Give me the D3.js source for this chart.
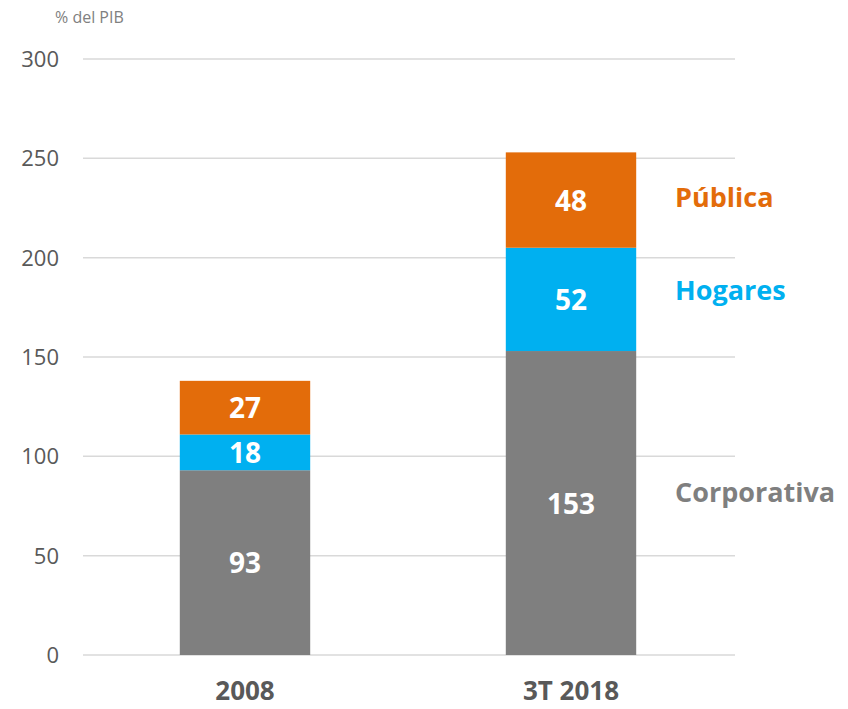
<!DOCTYPE html>
<html><head><meta charset="utf-8">
<script src="https://cdn.jsdelivr.net/npm/d3@7"></script>
<style>body{margin:0;background:#fff}svg{display:block}text{font-family:"Open Sans","Noto Sans",sans-serif}</style>
</head><body><div id="chart"></div>
<script>
const categories = ["2008", "3T 2018"];
const seriesNames = ["Corporativa", "Hogares", "Pública"];
const corporativa = [93, 153];
const hogares = [18, 52];
const publica = [27, 48];
const yTicks = [0, 50, 100, 150, 200, 250, 300];
const colors = ["#7f7f7f", "#00b0f0", "#e36c0a"];

const W = 848, H = 709;
const svg = d3.select("#chart").append("svg").attr("width", W).attr("height", H);
const y = d3.scaleLinear().domain([0, 300]).range([655, 59]);
const x = d3.scaleBand().domain(categories).range([82, 734]).paddingInner(0.6).paddingOuter(0.3);

const rows = categories.map((c, i) => ({cat: c, Corporativa: corporativa[i], Hogares: hogares[i], "Pública": publica[i]}));
const stacked = d3.stack().keys(seriesNames)(rows);

// gridlines
svg.append("g").selectAll("line").data(yTicks).join("line")
  .attr("x1", 83).attr("x2", 735).attr("y1", d => y(d)).attr("y2", d => y(d))
  .attr("stroke", "#d9d9d9").attr("stroke-width", 1.5);

// y tick labels
svg.append("g").selectAll("text").data(yTicks).join("text")
  .attr("x", 59).attr("y", d => y(d)).attr("dy", "0.36em").attr("text-anchor", "end")
  .attr("font-size", 22).attr("fill", "#595959").text(d => d);

svg.append("text").attr("x", 55).attr("y", 23).attr("font-size", 16).attr("fill", "#808080").text("% del PIB");

// bars
stacked.forEach((s, si) => {
  const g = svg.append("g");
  g.selectAll("rect").data(s).join("rect")
    .attr("x", d => x(d.data.cat)).attr("width", x.bandwidth())
    .attr("y", d => y(d[1])).attr("height", d => y(d[0]) - y(d[1]))
    .attr("fill", colors[si]);
  g.selectAll("text").data(s).join("text")
    .attr("x", d => x(d.data.cat) + x.bandwidth() / 2)
    .attr("y", d => (y(d[0]) + y(d[1])) / 2).attr("dy", "0.38em")
    .attr("text-anchor", "middle").attr("font-size", 28).attr("font-weight", "bold")
    .attr("fill", "#fff").text(d => d[1] - d[0]);
});

// category labels
svg.append("g").selectAll("text").data(categories).join("text")
  .attr("x", d => x(d) + x.bandwidth() / 2).attr("y", 700).attr("text-anchor", "middle")
  .attr("font-size", 26).attr("font-weight", "bold").attr("fill", "#595959").text(d => d);

// series labels at right
const labelY = [502, 300, 207];
svg.append("g").selectAll("text").data(seriesNames).join("text")
  .attr("x", 675).attr("y", (d, i) => labelY[i])
  .attr("font-size", 27).attr("font-weight", "bold").attr("fill", (d, i) => colors[i]).text(d => d);
</script></body></html>
